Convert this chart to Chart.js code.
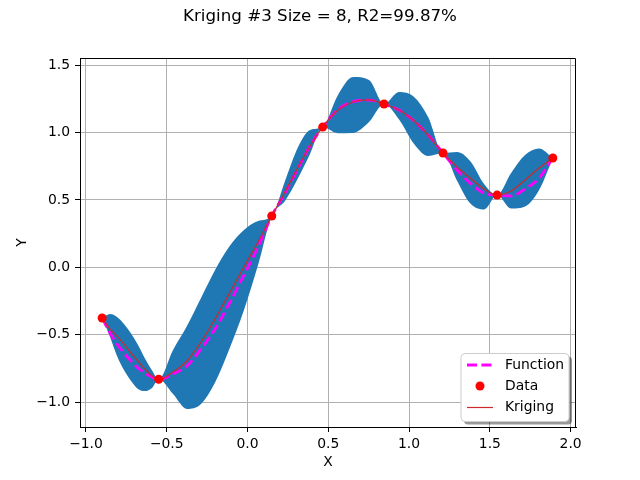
<!DOCTYPE html>
<html>
<head>
<meta charset="utf-8">
<script src="https://cdn.jsdelivr.net/npm/chart.js@4.4.0/dist/chart.umd.min.js"></script>
<style>
  html, body { margin: 0; padding: 0; background: #fff; }
</style>
</head>
<body>
<canvas id="chart" width="640" height="480"></canvas>
<script>
// Valores
const gridX = [-0.9, -0.851, -0.808, -0.765, -0.721, -0.678, -0.635, -0.591, -0.55,
    -0.461, -0.375, -0.288, -0.201, -0.115, -0.022, 0.065, 0.15,
    0.232, 0.313, 0.387, 0.465,
    0.56, 0.653, 0.752, 0.845,
    0.938, 1.031, 1.118, 1.21,
    1.297, 1.378, 1.464, 1.545,
    1.632, 1.718, 1.805, 1.89];
const funcY = [-0.375, -0.487, -0.568, -0.635, -0.694, -0.746, -0.783, -0.813, -0.83,
    -0.79, -0.731, -0.605, -0.457, -0.272, -0.057, 0.151, 0.381,
    0.551, 0.736, 0.9, 1.04,
    1.17, 1.228, 1.24, 1.211,
    1.166, 1.085, 0.981, 0.848,
    0.722, 0.625, 0.551, 0.536,
    0.529, 0.581, 0.662, 0.811];
const krigY = [-0.375, -0.457, -0.509, -0.568, -0.635, -0.694, -0.754, -0.805, -0.83,
    -0.776, -0.694, -0.553, -0.383, -0.198, 0.003, 0.188, 0.381,
    0.559, 0.744, 0.9, 1.04,
    1.166, 1.226, 1.241, 1.211,
    1.166, 1.085, 0.981, 0.848,
    0.744, 0.662, 0.581, 0.536,
    0.566, 0.648, 0.736, 0.811];
const bandLow = [-0.375, -0.516, -0.657, -0.761, -0.842, -0.902, -0.917, -0.894, -0.83,
    -0.939, -1.05, -1.013, -0.854, -0.613, -0.316, 0.017, 0.381,
    0.492, 0.662, 0.84, 1.04,
    0.995, 0.997, 1.077, 1.211,
    1.096, 0.914, 0.825, 0.848,
    0.642, 0.475, 0.429, 0.536,
    0.436, 0.451, 0.573, 0.811];
const bandHigh = [-0.375, -0.346, -0.368, -0.42, -0.49, -0.576, -0.676, -0.765, -0.83,
    -0.613, -0.435, -0.227, -0.02, 0.151, 0.277, 0.344, 0.381,
    0.64, 0.892, 1.018, 1.04,
    1.278, 1.411, 1.389, 1.211,
    1.3, 1.263, 1.115, 0.848,
    0.855, 0.788, 0.618, 0.536,
    0.699, 0.833, 0.881, 0.811];
const dataX = [-0.9, -0.55, 0.15, 0.465, 0.845, 1.21, 1.545, 1.89];
const dataY = [-0.375, -0.83, 0.381, 1.04, 1.211, 0.848, 0.536, 0.811];
const xTicks = [-1.0, -0.5, 0.0, 0.5, 1.0, 1.5, 2.0];
const yTicks = [-1.0, -0.5, 0.0, 0.5, 1.0, 1.5];
const titleText = 'Kriging #3 Size = 8, R2=99.87%';
const legendLabels = ['Function', 'Data', 'Kriging'];

const FONT = 'DejaVu Sans';
const KRIG_COLOR = '#cc2a2a';

function pairs(xs, ys) {
    return xs.map((x, i) => ({ x: x, y: ys[i] }));
}

// Formato de tick do matplotlib (sinal de menos unicode)
function fmtTick(v) {
    const s = Math.abs(v).toFixed(1);
    return v < 0 ? '\u2212' + s : s;
}

// Título, moldura superior/direita e legenda desenhados à mão
const extras = {
    id: 'extras',
    afterDraw(chart) {
        const ctx = chart.ctx;
        const a = chart.chartArea;
        ctx.save();

        // moldura
        ctx.strokeStyle = '#000';
        ctx.lineWidth = 1;
        ctx.beginPath();
        ctx.moveTo(a.left, a.top + 0.5);
        ctx.lineTo(a.right - 0.5, a.top + 0.5);
        ctx.lineTo(a.right - 0.5, a.bottom);
        ctx.stroke();

        // título
        ctx.fillStyle = '#000';
        ctx.font = '16.7px "' + FONT + '"';
        ctx.textAlign = 'center';
        ctx.textBaseline = 'middle';
        ctx.fillText(titleText, 320, 17);

        // legenda
        const bx = 461, by = 353.5, bw = 108, bh = 68, r = 4;
        const roundBox = (x, y) => {
            ctx.beginPath();
            ctx.moveTo(x + r, y);
            ctx.lineTo(x + bw - r, y);
            ctx.arcTo(x + bw, y, x + bw, y + r, r);
            ctx.lineTo(x + bw, y + bh - r);
            ctx.arcTo(x + bw, y + bh, x + bw - r, y + bh, r);
            ctx.lineTo(x + r, y + bh);
            ctx.arcTo(x, y + bh, x, y + bh - r, r);
            ctx.lineTo(x, y + r);
            ctx.arcTo(x, y, x + r, y, r);
            ctx.closePath();
        };
        roundBox(bx + 3, by + 3);
        ctx.fillStyle = 'rgba(0,0,0,0.4)';
        ctx.fill();
        roundBox(bx, by);
        ctx.fillStyle = '#fff';
        ctx.fill();
        ctx.strokeStyle = '#cccccc';
        ctx.stroke();

        const rows = [365, 386, 407];
        // Function
        ctx.strokeStyle = '#ff00ff';
        ctx.lineWidth = 2.8;
        ctx.setLineDash([10, 4.4]);
        ctx.beginPath();
        ctx.moveTo(467, rows[0]);
        ctx.lineTo(493, rows[0]);
        ctx.stroke();
        ctx.setLineDash([]);
        // Data
        ctx.fillStyle = 'red';
        ctx.beginPath();
        ctx.arc(480, rows[1], 4.5, 0, Math.PI * 2);
        ctx.fill();
        // Kriging
        ctx.strokeStyle = KRIG_COLOR;
        ctx.lineWidth = 1.2;
        ctx.beginPath();
        ctx.moveTo(467, rows[2] + 0.5);
        ctx.lineTo(493, rows[2] + 0.5);
        ctx.stroke();

        ctx.fillStyle = '#000';
        ctx.font = '13.9px "' + FONT + '"';
        ctx.textAlign = 'left';
        ctx.textBaseline = 'middle';
        legendLabels.forEach((t, i) => ctx.fillText(t, 505, rows[i]));
        ctx.restore();
    }
};

Chart.defaults.font.family = FONT;
Chart.defaults.font.size = 13.9;
Chart.defaults.color = '#000';

const ctx = document.getElementById('chart').getContext('2d');
new Chart(ctx, {
    type: 'line',
    data: {
        datasets: [
            {
                label: 'band low',
                data: pairs(gridX, bandLow),
                borderWidth: 0,
                pointRadius: 0,
                cubicInterpolationMode: 'monotone',
                fill: false,
                order: 4
            },
            {
                label: 'band high',
                data: pairs(gridX, bandHigh),
                borderWidth: 0,
                pointRadius: 0,
                cubicInterpolationMode: 'monotone',
                backgroundColor: '#1f77b4',
                fill: '-1',
                order: 3
            },
            {
                label: legendLabels[0],
                data: pairs(gridX, funcY),
                borderColor: '#ff00ff',
                borderWidth: 2.8,
                borderDash: [10, 4.4],
                pointRadius: 0,
                cubicInterpolationMode: 'monotone',
                fill: false,
                order: 2
            },
            {
                label: legendLabels[2],
                data: pairs(gridX, krigY),
                borderColor: KRIG_COLOR,
                borderWidth: 1.2,
                pointRadius: 0,
                cubicInterpolationMode: 'monotone',
                fill: false,
                order: 1
            },
            {
                label: legendLabels[1],
                data: pairs(dataX, dataY),
                showLine: false,
                pointRadius: 4.5,
                pointBackgroundColor: 'red',
                pointBorderColor: 'red',
                pointBorderWidth: 0,
                fill: false,
                order: 0
            }
        ]
    },
    options: {
        responsive: false,
        animation: false,
        devicePixelRatio: 1,
        layout: { padding: { top: 58, right: 64, left: 0, bottom: 0 } },
        scales: {
            x: {
                type: 'linear',
                min: -1.0371,
                max: 2.0334,
                afterBuildTicks: s => { s.ticks = xTicks.map(v => ({ value: v })); },
                afterFit: s => { s.height = 53; },
                ticks: { callback: fmtTick, padding: 4, autoSkip: false, maxRotation: 0 },
                grid: { color: '#b0b0b0', lineWidth: 1, tickColor: '#000', tickLength: 5, tickWidth: 1 },
                border: { color: '#000', width: 1 },
                title: { display: true, text: 'X', padding: { top: 0, bottom: 9.7 } }
            },
            y: {
                type: 'linear',
                min: -1.183,
                max: 1.552,
                afterBuildTicks: s => { s.ticks = yTicks.map(v => ({ value: v })); },
                afterFit: s => { s.width = 80; },
                ticks: { callback: fmtTick, padding: 5, autoSkip: false },
                grid: { color: '#b0b0b0', lineWidth: 1, tickColor: '#000', tickLength: 5, tickWidth: 1 },
                border: { color: '#000', width: 1 },
                title: { display: true, text: 'Y', padding: { top: 13.7, bottom: 0 } }
            }
        },
        plugins: {
            legend: { display: false },
            tooltip: { enabled: false }
        }
    },
    plugins: [extras]
});
</script>
</body>
</html>
